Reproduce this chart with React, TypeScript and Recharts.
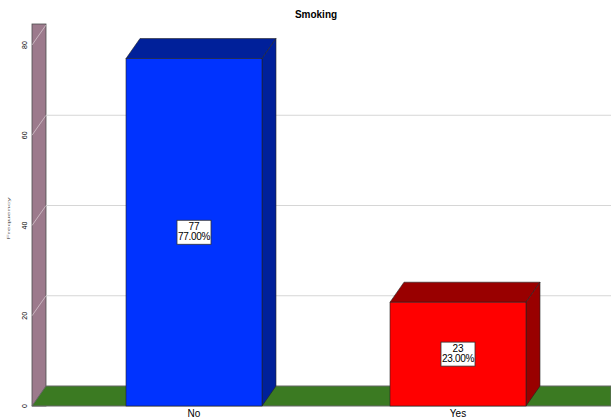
import React from 'react';
import {
    BarChart,
    Bar,
    XAxis,
    YAxis,
    CartesianGrid,
    ReferenceArea,
    LabelList,
} from 'recharts';

const categories = ['No', 'Yes'];
const counts = [77, 23];
const yTicks = [0, 20, 40, 60, 80];
const gridValues = [20, 40, 60];

const W = 611;
const H = 418;
const LEFT = 32;
const TOP = 45;
const BOTTOM = 12;
const DX = 14; // depth offset, right
const DY = 20; // depth offset, up
const FONT = 'Arial, "Liberation Sans", sans-serif';

const barColors: Record<string, { front: string; dark: string }> = {
    No: { front: '#0033ff', dark: '#00209a' },
    Yes: { front: '#ff0000', dark: '#990000' },
};

const total = counts.reduce((s, c) => s + c, 0);
const data = categories.map((name, i) => ({
    name,
    count: counts[i],
    pct: ((counts[i] / total) * 100).toFixed(2) + '%',
}));

// back wall + floor, positioned from the y range the library gives us
function WallFloor(props: any) {
    const { y, height } = props;
    const bottom = y + height;
    const max = yTicks[yTicks.length - 1];
    return (
        <g>
            <rect
                x={LEFT}
                y={y - DY - 1}
                width={DX}
                height={height + DY + 1}
                fill="#9c7a8c"
                stroke="#4d4d4d"
                strokeWidth={0.8}
            />
            {yTicks
                .filter((t) => t > 0)
                .map((t) => {
                    const py = bottom - (t / max) * height;
                    return (
                        <line
                            key={t}
                            x1={LEFT}
                            y1={py}
                            x2={LEFT + DX}
                            y2={py - DY}
                            stroke="rgba(255,255,255,0.45)"
                            strokeWidth={1}
                        />
                    );
                })}
            <polygon
                points={`${LEFT},${bottom} ${LEFT + DX},${bottom - DY} ${W},${bottom - DY} ${W},${bottom}`}
                fill="#3b7a22"
                stroke="#666"
                strokeWidth={1}
            />
        </g>
    );
}

function Bar3D(props: any) {
    const { x, y, width, height, payload } = props;
    const c = barColors[payload.name] || barColors.No;
    const top = `${x},${y} ${x + DX},${y - DY} ${x + width + DX},${y - DY} ${x + width},${y}`;
    const side = `${x + width},${y} ${x + width + DX},${y - DY} ${x + width + DX},${y + height - DY} ${x + width},${y + height}`;
    return (
        <g>
            <polygon points={top} fill={c.dark} stroke="#222" strokeWidth={0.6} />
            <polygon points={side} fill={c.dark} stroke="#222" strokeWidth={0.6} />
            <rect x={x} y={y} width={width} height={height} fill={c.front} stroke="#222" strokeWidth={0.6} />
        </g>
    );
}

function BoxLabel(props: any) {
    const { x, y, width, height, index } = props;
    const d = data[index];
    if (!d) return null;
    const cx = x + width / 2;
    const cy = y + height / 2;
    return (
        <g>
            <rect x={cx - 17} y={cy - 12} width={34} height={24} fill="#fff" stroke="#333" strokeWidth={0.8} />
            <text x={cx} y={cy - 2} textAnchor="middle" fontSize={10} fontFamily={FONT} fill="#000">
                {d.count}
            </text>
            <text x={cx} y={cy + 8} textAnchor="middle" fontSize={10} fontFamily={FONT} fill="#000" letterSpacing={-0.3}>
                {d.pct}
            </text>
        </g>
    );
}

function YTick(props: any) {
    const { x, y, payload } = props;
    return (
        <text
            x={x}
            y={y + 3}
            transform={`rotate(-90, ${x}, ${y})`}
            textAnchor="middle"
            fontSize={7}
            fontFamily={FONT}
            fill="#000"
        >
            {payload.value}
        </text>
    );
}

function XTick(props: any) {
    const { x, payload } = props;
    return (
        <text x={x} y={H - 1} textAnchor="middle" fontSize={10} fontFamily={FONT} fill="#000">
            {payload.value}
        </text>
    );
}

function YLabel(props: any) {
    const vb = props.viewBox || { y: TOP, height: H - TOP - BOTTOM };
    const cy = vb.y + vb.height / 2 - 7;
    return (
        <text
            transform={`translate(10, ${cy}) rotate(-90) scale(1, 0.35)`}
            x={0}
            y={0}
            textAnchor="middle"
            fontSize={9}
            fontFamily={FONT}
            fill="#666"
        >
            Frequency
        </text>
    );
}

export default function App() {
    return (
        <div style={{ position: 'absolute', left: 0, top: 0, width: W, height: H, background: '#fff' }}>
            <div
                style={{
                    position: 'absolute',
                    left: 266,
                    top: 9,
                    width: 100,
                    textAlign: 'center',
                    fontFamily: FONT,
                    fontSize: 10,
                    fontWeight: 'bold',
                    lineHeight: '12px',
                    color: '#000',
                }}
            >
                Smoking
            </div>
            <BarChart
                width={W}
                height={H}
                data={data}
                margin={{ top: TOP, right: 0, bottom: 0, left: 0 }}
            >
                <ReferenceArea y1={0} y2={80} shape={WallFloor} zIndex={-200} ifOverflow="visible" />
                <CartesianGrid
                    vertical={false}
                    horizontalValues={gridValues}
                    horizontal={(p: any) => (
                        <line
                            key={p.key}
                            x1={p.x1 + DX}
                            y1={p.y1 - DY}
                            x2={p.x2}
                            y2={p.y2 - DY}
                            stroke="#d6d6d6"
                            strokeWidth={1}
                        />
                    )}
                />
                <XAxis
                    dataKey="name"
                    height={BOTTOM}
                    axisLine={false}
                    tickLine={false}
                    padding={{ left: 30, right: 21 }}
                    tick={<XTick />}
                    interval={0}
                />
                <YAxis
                    width={LEFT}
                    domain={[0, 80]}
                    ticks={yTicks}
                    axisLine={false}
                    tickLine={false}
                    tick={<YTick />}
                    label={<YLabel />}
                />
                <Bar dataKey="count" barSize={136} isAnimationActive={false} shape={Bar3D}>
                    <LabelList dataKey="count" content={<BoxLabel />} />
                </Bar>
            </BarChart>
        </div>
    );
}
